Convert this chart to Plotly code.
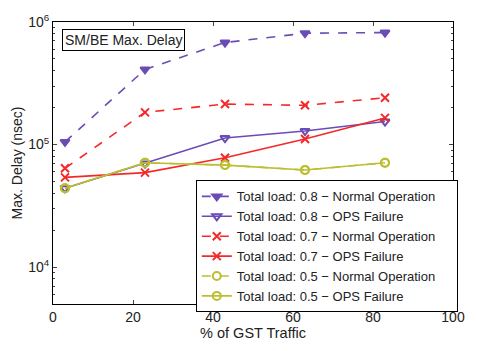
import plotly.graph_objects as go

x_gst = [3, 23, 43, 63, 83]

load08_normal = [1.05e5, 4.1e5, 6.8e5, 8.1e5, 8.2e5]
load08_failure = [4.4e4, 7.0e4, 1.13e5, 1.29e5, 1.54e5]
load07_normal = [6.4e4, 1.83e5, 2.14e5, 2.09e5, 2.41e5]
load07_failure = [5.4e4, 5.9e4, 7.8e4, 1.11e5, 1.65e5]
load05_normal = [4.4e4, 7.1e4, 6.8e4, 6.2e4, 7.1e4]
load05_failure = [4.4e4, 7.1e4, 6.8e4, 6.2e4, 7.1e4]

series_names = [
    "Total load: 0.8 − Normal Operation",
    "Total load: 0.8 − OPS Failure",
    "Total load: 0.7 − Normal Operation",
    "Total load: 0.7 − OPS Failure",
    "Total load: 0.5 − Normal Operation",
    "Total load: 0.5 − OPS Failure",
]

PURPLE = "#6A4CB4"
RED = "#F52828"
YELLOW = "#BCBE30"

specs = [
    (load08_normal, PURPLE, "dash", "triangle-down"),
    (load08_failure, PURPLE, "solid", "triangle-down-open"),
    (load07_normal, RED, "dash", "x-thin-open"),
    (load07_failure, RED, "solid", "x-thin-open"),
    (load05_normal, YELLOW, "dash", "circle-open"),
    (load05_failure, YELLOW, "solid", "circle-open"),
]

fig = go.Figure()
for name, (vals, col, dash, sym) in zip(series_names, specs):
    fig.add_trace(go.Scatter(
        x=x_gst, y=vals, name=name, mode="lines+markers",
        line=dict(color=col, width=1.6, dash=dash),
        marker=dict(symbol=sym, size=8, color=col,
                    line=dict(color=col, width=2)),
    ))

FONT = "Liberation Sans, Arial, sans-serif"

fig.update_layout(
    width=477, height=351,
    margin=dict(l=53, r=12, t=20, b=33),
    plot_bgcolor="white", paper_bgcolor="white",
    font=dict(family=FONT, size=14, color="#222222"),
    showlegend=True,
    legend=dict(
        orientation="h", entrywidth=215, entrywidthmode="pixels",
        x=1.012, y=-0.03, xanchor="right", yanchor="bottom",
        bgcolor="white", bordercolor="black", borderwidth=1,
        font=dict(size=13, family=FONT, color="#222222"),
        tracegroupgap=0, itemwidth=30,
    ),
    xaxis=dict(
        range=[0, 100], tickvals=[0, 20, 40, 60, 80, 100],
        ticks="inside", ticklen=4, mirror="allticks", showline=True,
        linecolor="black", linewidth=1, showgrid=False, zeroline=False,
        title=dict(text="% of GST Traffic", standoff=4, font=dict(size=14.5)),
        tickfont=dict(size=14),
    ),
    yaxis=dict(
        type="log", range=[3.699, 6],
        tickvals=[1e4, 1e5, 1e6],
        ticktext=["10<sup>4</sup>", "10<sup>5</sup>", "10<sup>6</sup>"],
        ticks="inside", ticklen=4, mirror="allticks", showline=True,
        linecolor="black", linewidth=1, showgrid=False, zeroline=False,
        minor=dict(ticks="inside", ticklen=2, showgrid=False,
                   tickvals=[6e3, 7e3, 8e3, 9e3,
                             2e4, 3e4, 4e4, 5e4, 6e4, 7e4, 8e4, 9e4,
                             2e5, 3e5, 4e5, 5e5, 6e5, 7e5, 8e5, 9e5]),
        title=dict(text="Max. Delay (nsec)", standoff=2, font=dict(size=14)),
        tickfont=dict(size=14),
    ),
    annotations=[dict(
        text="SM/BE Max. Delay", xref="paper", yref="paper",
        x=0.022, y=0.975, xanchor="left", yanchor="top", showarrow=False,
        bordercolor="black", borderwidth=1, bgcolor="white", borderpad=2,
        font=dict(size=14, family=FONT),
    )],
)

fig.write_html("out.html")
